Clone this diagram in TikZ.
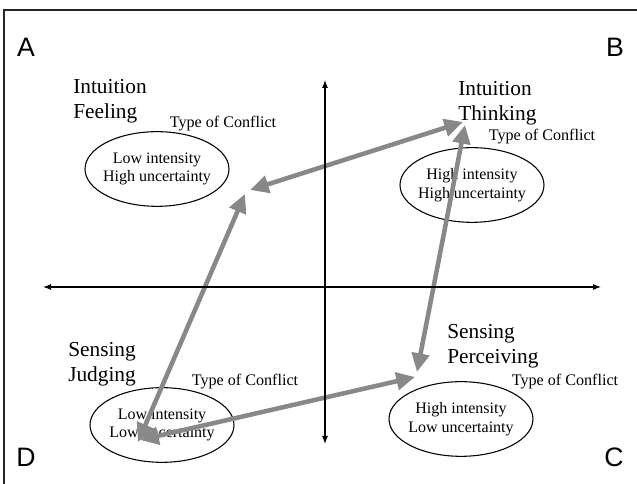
\documentclass[tikz,border=0pt]{standalone}
\usepackage{fontspec}
\setmainfont{Liberation Serif}
\newfontfamily\cornerfont{Liberation Sans}
\usepackage{tikz}
\usetikzlibrary{arrows.meta,shapes.geometric}
\definecolor{flowgray}{RGB}{136,136,136}

\begin{document}
\begin{tikzpicture}[x=0.75pt, y=-0.75pt,
  corner/.style={font=\cornerfont\fontsize{20}{24}\selectfont, inner sep=0pt},
  kind/.style={anchor=north west, align=left, inner sep=0pt, font=\fontsize{16}{19}\selectfont},
  conflict/.style={font=\fontsize{12.1}{15}\selectfont, inner sep=0pt},
  intensity/.style={draw, ellipse, line width=0.8pt, align=center, minimum width=108pt, minimum height=56pt, inner xsep=-10pt, inner ysep=0pt, font=\fontsize{12}{14}\selectfont},
  axis/.style={line width=0.8pt, {Latex[length=6pt,width=4.5pt]}-{Latex[length=6pt,width=4.5pt]}},
  flow/.style={draw=flowgray, line width=3.4pt, {Triangle[length=14pt,width=13pt]}-{Triangle[length=14pt,width=13pt]}}]
  \useasboundingbox (0,0) rectangle (637,484);
  \draw[line width=1pt, black!85] (4,484) -- (4,10) -- (637,10);
  \node[corner] (cA) at (26,47) {A};
  \node[corner] (cB) at (615,47) {B};
  \node[corner] (cC) at (614,457) {C};
  \node[corner] (cD) at (26,457) {D};
  \node[kind] (IF) at (73,79) {Intuition\\Feeling};
  \node[kind] (IT) at (458,81) {Intuition\\Thinking};
  \node[kind] (SJ) at (68,342) {Sensing\\Judging};
  \node[kind] (SP) at (447,324) {Sensing\\Perceiving};
  \node[conflict] (tA) at (223,124) {Type of Conflict};
  \node[conflict] (tB) at (542,137) {Type of Conflict};
  \node[conflict] (tD) at (245,382) {Type of Conflict};
  \node[conflict] (tC) at (565,382) {Type of Conflict};
  \node[intensity] (eA) at (157,169) {Low intensity\\High uncertainty};
  \node[intensity] (eB) at (472,185) {High intensity\\High uncertainty};
  \node[intensity] (eC) at (461,419) {High intensity\\Low uncertainty};
  \node[intensity] (eD) at (162,425) {Low intensity\\Low uncertainty};
  \coordinate (vtop) at (325,80);
  \coordinate (vbot) at (325,444);
  \coordinate (hleft) at (43,287);
  \coordinate (hright) at (601,287);
  \coordinate (pIF) at (250,190);
  \coordinate (pIF2) at (245,194);
  \coordinate (pIT) at (463,122);
  \coordinate (pIT2) at (465,125);
  \coordinate (pSJ) at (138,442);
  \coordinate (pSJ2) at (140,440);
  \coordinate (pSP) at (415,377);
  \coordinate (pSP2) at (417,372);
  \draw[flow] (pIF) -- (pIT);
  \draw[flow] (pIF2) -- (pSJ);
  \draw[flow] (pSJ2) -- (pSP);
  \draw[flow] (pSP2) -- (pIT2);
  \draw[axis] (vbot) -- (vtop);
  \draw[axis] (hleft) -- (hright);
\end{tikzpicture}
\end{document}
